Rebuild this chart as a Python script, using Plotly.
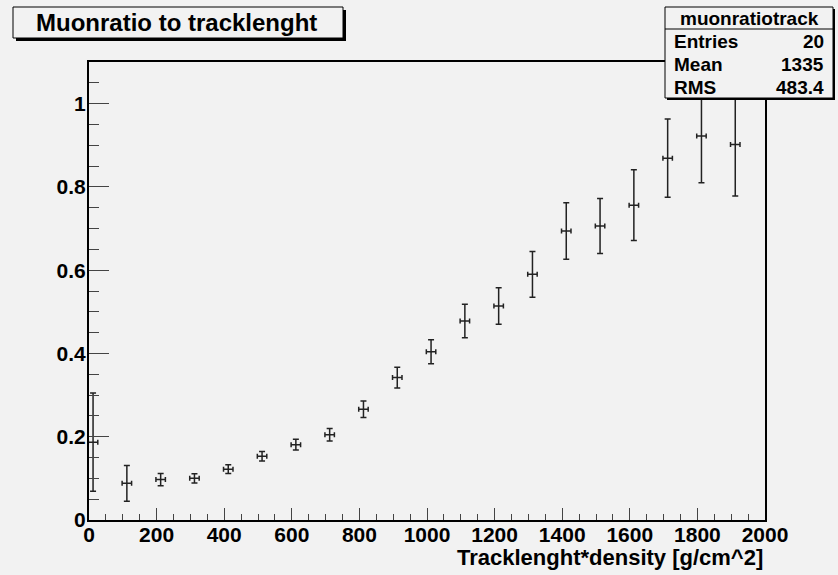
import plotly.graph_objects as go

# values
track_len = [12, 112, 212, 312, 412, 512, 612, 712, 812, 912,
             1012, 1112, 1212, 1312, 1412, 1512, 1612, 1712, 1812, 1912]
muon_ratio = [0.187, 0.088, 0.097, 0.100, 0.122, 0.153, 0.181, 0.205, 0.266, 0.342,
              0.404, 0.478, 0.514, 0.590, 0.694, 0.706, 0.756, 0.869, 0.922, 0.902]
ratio_err = [0.118, 0.043, 0.0145, 0.011, 0.0105, 0.0115, 0.013, 0.015, 0.020, 0.025,
             0.029, 0.040, 0.044, 0.055, 0.068, 0.066, 0.085, 0.094, 0.112, 0.124]
len_err = [14] * 20

stat_names = ["Entries", "Mean", "RMS"]
stat_values = ["20", "1335", "483.4"]

W, H = 838, 575
L, R, T, B = 89, 765, 62, 520   # frame in pixels
BG = "#f2f2f2"
FONT = "Liberation Sans"


def px(x):
    return (x - L) / (R - L)


def py(y):
    return (B - y) / (B - T)


fig = go.Figure()
fig.add_trace(go.Scatter(
    x=track_len, y=muon_ratio, mode="markers",
    marker=dict(size=1, color="#222"),
    error_y=dict(type="data", array=ratio_err, color="#222", thickness=1.5, width=3),
    error_x=dict(type="data", array=len_err, color="#222", thickness=1.5, width=2.5),
    showlegend=False,
))

axis_font = dict(family=FONT, size=21, color="black", weight="bold")
fig.update_xaxes(range=[0, 2000], dtick=200, ticks="inside", ticklen=12, tickwidth=1,
                 minor=dict(dtick=50, ticks="inside", ticklen=6, tickwidth=1),
                 showline=True, linewidth=2, linecolor="black", mirror=True,
                 showgrid=False, zeroline=False, tickfont=axis_font,
                 ticklabelstandoff=-5)
fig.update_yaxes(range=[0, 1.1], dtick=0.2, ticks="inside", ticklen=20, tickwidth=1,
                 minor=dict(dtick=0.05, ticks="inside", ticklen=10, tickwidth=1),
                 showline=True, linewidth=2, linecolor="black", mirror=True,
                 showgrid=False, zeroline=False, tickfont=axis_font,
                 ticklabelstandoff=-3)

shapes = []
annos = []

# title box
shapes.append(dict(type="rect", xref="paper", yref="paper", layer="above",
                   x0=px(16), x1=px(346), y0=py(10), y1=py(41),
                   fillcolor="black", line=dict(width=0)))
shapes.append(dict(type="rect", xref="paper", yref="paper", layer="above",
                   x0=px(13), x1=px(343), y0=py(7), y1=py(38),
                   fillcolor=BG, line=dict(color="black", width=1)))
annos.append(dict(xref="paper", yref="paper", x=px(176), y=py(22), text="Muonratio to tracklenght",
                  showarrow=False, xanchor="center", yanchor="middle",
                  font=dict(family=FONT, size=24, color="black", weight="bold")))

# stats box
shapes.append(dict(type="rect", xref="paper", yref="paper", layer="above",
                   x0=px(667), x1=px(835), y0=py(9), y1=py(100),
                   fillcolor="black", line=dict(width=0)))
shapes.append(dict(type="rect", xref="paper", yref="paper", layer="above",
                   x0=px(665), x1=px(833), y0=py(7), y1=py(98),
                   fillcolor=BG, line=dict(color="black", width=1)))
shapes.append(dict(type="line", xref="paper", yref="paper", layer="above",
                   x0=px(665), x1=px(833), y0=py(29), y1=py(29),
                   line=dict(color="black", width=1)))
stat_font = dict(family=FONT, size=19, color="black", weight="bold")
annos.append(dict(xref="paper", yref="paper", x=px(749), y=py(18), text="muonratiotrack",
                  showarrow=False, xanchor="center", yanchor="middle", font=stat_font))
for i, (name, val) in enumerate(zip(stat_names, stat_values)):
    yy = py(41.5 + 23 * i)
    annos.append(dict(xref="paper", yref="paper", x=px(672), y=yy, text=name,
                      showarrow=False, xanchor="left", yanchor="middle", font=stat_font))
    annos.append(dict(xref="paper", yref="paper", x=px(826), y=yy, text=val,
                      showarrow=False, xanchor="right", yanchor="middle", font=stat_font))

# x axis title, right aligned at end of axis
annos.append(dict(xref="paper", yref="paper", x=1, y=py(557), text="Tracklenght*density [g/cm^2]",
                  showarrow=False, xanchor="right", yanchor="middle",
                  font=dict(family=FONT, size=22, color="black", weight="bold")))

fig.update_layout(
    width=W, height=H, autosize=False,
    paper_bgcolor=BG, plot_bgcolor=BG,
    margin=dict(l=L, r=W - R, t=T, b=H - B, pad=0),
    shapes=shapes, annotations=annos,
)

fig.write_html("out.html", config={"displayModeBar": False},
               post_script="document.body.style.margin='0';document.body.style.overflow='hidden';")
